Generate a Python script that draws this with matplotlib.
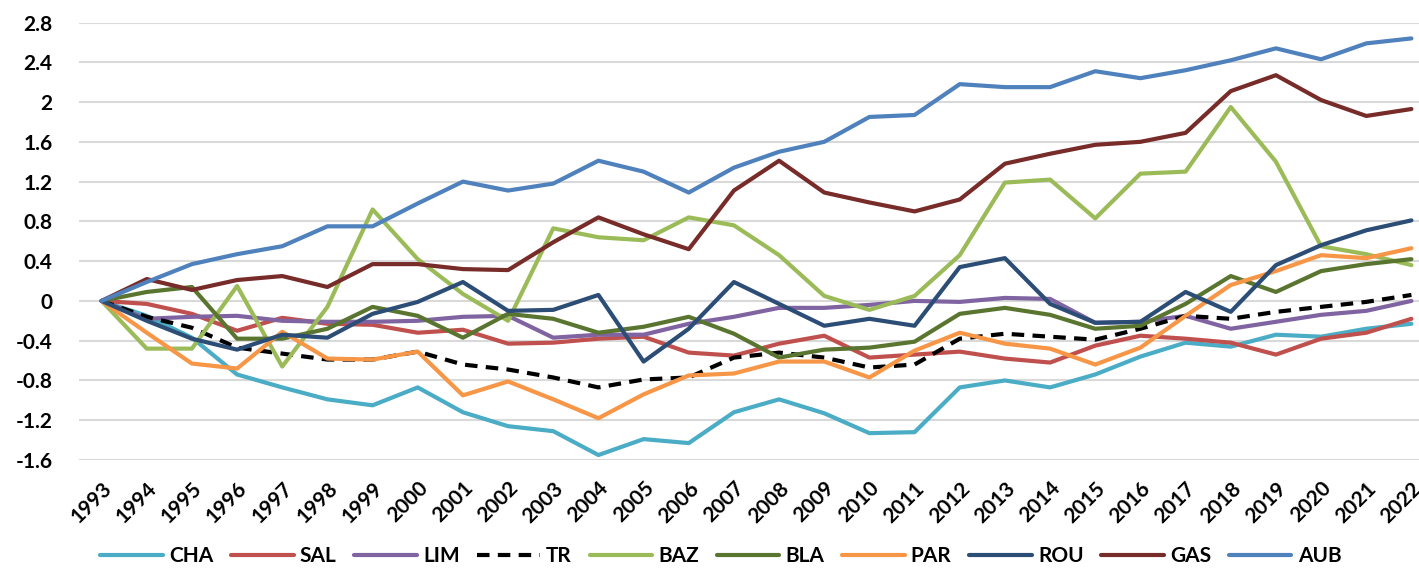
import numpy as np
import matplotlib.pyplot as plt

plt.rcParams['font.family'] = ['Lato', 'DejaVu Sans']
plt.rcParams['font.weight'] = 'bold'

years = list(range(1993, 2023))

CHA = [0, -0.15, -0.37, -0.74, -0.87, -0.99, -1.05, -0.87, -1.12, -1.26,
       -1.31, -1.55, -1.39, -1.43, -1.12, -0.99, -1.13, -1.33, -1.32, -0.87,
       -0.80, -0.87, -0.74, -0.56, -0.42, -0.46, -0.34, -0.36, -0.28, -0.23]
SAL = [0, -0.03, -0.13, -0.30, -0.17, -0.23, -0.24, -0.32, -0.29, -0.43,
       -0.42, -0.38, -0.36, -0.52, -0.55, -0.43, -0.35, -0.57, -0.54, -0.51,
       -0.58, -0.62, -0.45, -0.35, -0.38, -0.42, -0.54, -0.38, -0.32, -0.18]
LIM = [0, -0.18, -0.16, -0.15, -0.20, -0.21, -0.21, -0.20, -0.16, -0.15,
       -0.37, -0.34, -0.34, -0.23, -0.16, -0.07, -0.07, -0.04, 0.00, -0.01,
       0.03, 0.02, -0.22, -0.21, -0.15, -0.28, -0.21, -0.14, -0.10, 0.00]
TR = [0, -0.16, -0.27, -0.47, -0.53, -0.59, -0.59, -0.51, -0.64, -0.69,
      -0.77, -0.87, -0.79, -0.77, -0.57, -0.52, -0.57, -0.67, -0.64, -0.38,
      -0.33, -0.36, -0.39, -0.28, -0.15, -0.18, -0.11, -0.06, -0.01, 0.06]
BAZ = [0, -0.48, -0.48, 0.15, -0.66, -0.06, 0.92, 0.42, 0.07, -0.20,
       0.73, 0.64, 0.61, 0.84, 0.76, 0.46, 0.05, -0.09, 0.05, 0.46,
       1.19, 1.22, 0.83, 1.28, 1.30, 1.95, 1.40, 0.55, 0.47, 0.36]
BLA = [0, 0.09, 0.14, -0.38, -0.38, -0.28, -0.06, -0.15, -0.37, -0.13,
       -0.18, -0.32, -0.26, -0.16, -0.33, -0.57, -0.49, -0.47, -0.41, -0.13,
       -0.07, -0.14, -0.28, -0.25, -0.03, 0.25, 0.09, 0.30, 0.37, 0.42]
PAR = [0, -0.32, -0.63, -0.68, -0.31, -0.58, -0.59, -0.51, -0.95, -0.81,
       -0.99, -1.18, -0.94, -0.75, -0.73, -0.61, -0.61, -0.77, -0.50, -0.32,
       -0.43, -0.48, -0.64, -0.47, -0.15, 0.16, 0.30, 0.46, 0.43, 0.53]
ROU = [0, -0.20, -0.38, -0.49, -0.34, -0.37, -0.13, -0.01, 0.19, -0.10,
       -0.09, 0.06, -0.61, -0.28, 0.19, -0.03, -0.25, -0.18, -0.25, 0.34,
       0.43, -0.03, -0.22, -0.21, 0.09, -0.11, 0.36, 0.56, 0.71, 0.81]
GAS = [0, 0.22, 0.11, 0.21, 0.25, 0.14, 0.37, 0.37, 0.32, 0.31,
       0.59, 0.84, 0.67, 0.52, 1.11, 1.41, 1.09, 0.99, 0.90, 1.02,
       1.38, 1.48, 1.57, 1.60, 1.69, 2.11, 2.27, 2.02, 1.86, 1.93]
AUB = [0, 0.19, 0.37, 0.47, 0.55, 0.75, 0.75, 0.98, 1.20, 1.11,
       1.18, 1.41, 1.30, 1.09, 1.34, 1.50, 1.60, 1.85, 1.87, 2.18,
       2.15, 2.15, 2.31, 2.24, 2.32, 2.42, 2.54, 2.43, 2.59, 2.64]

series = [("CHA", CHA, "#4BACC6"), ("SAL", SAL, "#C0504D"), ("LIM", LIM, "#8064A2"),
          ("TR", TR, "black"), ("BAZ", BAZ, "#9BBB59"), ("BLA", BLA, "#5A7530"),
          ("PAR", PAR, "#F79646"), ("ROU", ROU, "#2C4D75"), ("GAS", GAS, "#772C2A"),
          ("AUB", AUB, "#4F81BD")]

fig = plt.figure(figsize=(14.19, 5.68), dpi=100)
ax = fig.add_axes([79 / 1419, 108 / 568, 1355 / 1419, 437.5 / 568])

for name, vals, col in series:
    if name == "TR":
        ax.plot(years, vals, color=col, lw=3, ls=(0, (3, 2)), label=name)
    else:
        ax.plot(years, vals, color=col, lw=3, label=name, solid_capstyle='round')

ax.set_xlim(1992.5, 2022.5)
ax.set_ylim(-1.6, 2.8)
yt = np.arange(-1.6, 2.81, 0.4)
ax.set_yticks(yt)
ax.set_yticklabels(["%g" % (round(v, 1) + 0.0) for v in yt], fontsize=15, fontweight='bold')
ax.set_xticks(years)
ax.set_xticklabels([str(y) for y in years], rotation=45, ha='right', va='top',
                   rotation_mode='anchor', fontsize=15, fontweight='bold')
ax.tick_params(length=0)
ax.tick_params(axis='x', pad=13)
ax.tick_params(axis='y', pad=19)
ax.grid(axis='y', color='#D9D9D9', lw=1.5)
ax.set_axisbelow(True)
for s in ax.spines.values():
    s.set_visible(False)

fig.legend(loc='lower center', bbox_to_anchor=(0.508, -0.03), ncol=10, frameon=False,
           handlelength=3.0, columnspacing=0.85, handletextpad=0.3,
           prop={'weight': 'bold', 'size': 15})

fig.savefig("out.png", dpi=100)
